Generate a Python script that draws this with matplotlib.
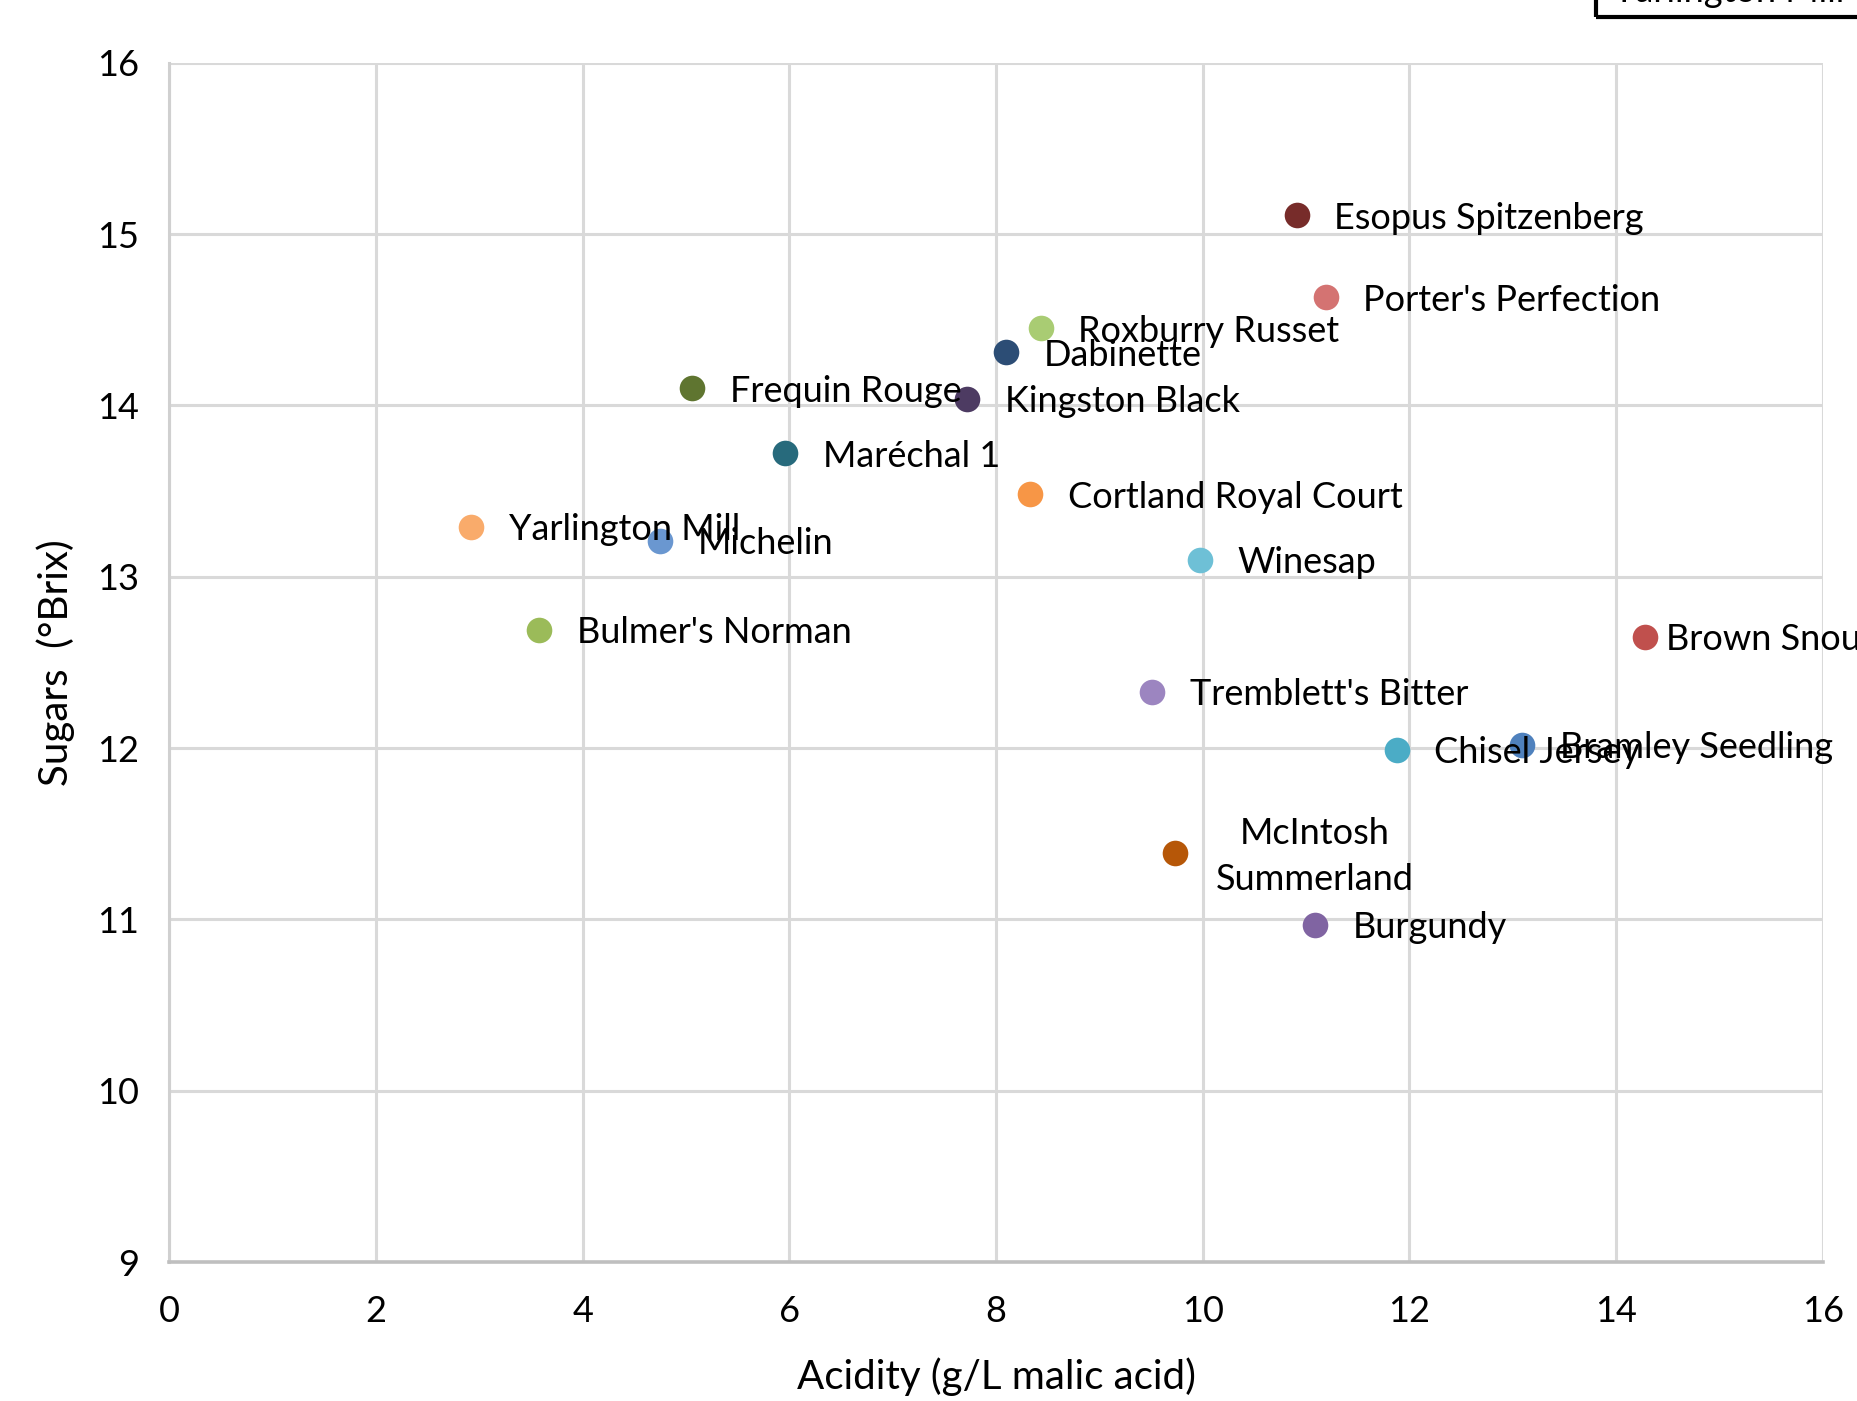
import matplotlib
matplotlib.use("Agg")
import matplotlib.pyplot as plt
from matplotlib.patches import Rectangle

# Cider apple varieties: acidity vs sugar content
varieties = ["Esopus Spitzenberg", "Porter's Perfection", "Roxburry Russet", "Dabinette",
             "Frequin Rouge", "Kingston Black", "Maréchal 1", "Cortland Royal Court",
             "Yarlington Mill", "Michelin", "Winesap", "Bulmer's Norman", "Brown Snout",
             "Tremblett's Bitter", "Chisel Jersey", "Bramley Seedling",
             "McIntosh\nSummerland", "Burgundy"]
acidity = [10.91, 11.19, 8.43, 8.10, 5.06, 7.72, 5.96, 8.33, 2.92, 4.75, 9.97, 3.58,
           14.28, 9.51, 11.88, 13.09, 9.73, 11.09]
sugars = [15.11, 14.63, 14.45, 14.31, 14.10, 14.04, 13.72, 13.48, 13.29, 13.21, 13.10,
          12.69, 12.65, 12.33, 11.99, 12.02, 11.39, 10.97]
colors = ["#772C2A", "#D47372", "#A9CC73", "#2C4D75", "#5F7530", "#4D3B62", "#276A7C",
          "#F79646", "#F9AB6B", "#6A97D0", "#6EC0D6", "#9BBB59", "#C0504D", "#9C85C0",
          "#4BACC6", "#4F81BD", "#B65708", "#8064A2"]

x_ticks = [0, 2, 4, 6, 8, 10, 12, 14, 16]
y_ticks = [9, 10, 11, 12, 13, 14, 15, 16]

plt.rcParams['font.family'] = ['Lato', 'DejaVu Sans']
FS = 26

fig = plt.figure(figsize=(18.58, 14.01), dpi=100)
ax = fig.add_axes([0.0912, 0.0992, 0.8898, 0.856])

for x, y, c in zip(acidity, sugars, colors):
    ax.scatter(x, y, s=340, color=c, zorder=3, linewidths=0)

# labels sit to the right of each point
for name, x, y in zip(varieties, acidity, sugars):
    if "\n" in name:
        ax.annotate(name, (x, y), xytext=(101, -3), textcoords="offset points",
                    ha="center", va="center", fontsize=FS, color="#000000",
                    linespacing=1.5, zorder=4, annotation_clip=False)
    else:
        dx = 15 if name == "Brown Snout" else 27
        ax.annotate(name, (x, y), xytext=(dx, -2), textcoords="offset points",
                    ha="left", va="center", fontsize=FS, color="#000000",
                    zorder=4, annotation_clip=False)

ax.set_xlim(0, 16)
ax.set_ylim(9, 16)
ax.set_xticks(x_ticks)
ax.set_yticks(y_ticks)
ax.tick_params(length=0, labelsize=FS, colors="#000000")
ax.tick_params(axis="y", pad=22)
ax.tick_params(axis="x", pad=24)
ax.grid(True, color="#D9D9D9", linewidth=2.2, zorder=0)
ax.set_axisbelow(True)
for side in ["top", "right"]:
    ax.spines[side].set_visible(False)
ax.spines["left"].set_color("#D0D0D0")
ax.spines["left"].set_linewidth(2.2)
ax.spines["bottom"].set_color("#BFBFBF")
ax.spines["bottom"].set_linewidth(2.6)

ax.set_xlabel("Acidity (g/L malic acid)", fontsize=FS + 3, labelpad=21)
ax.set_ylabel("Sugars  (°Brix)", fontsize=FS + 3, labelpad=16)

# clipped legend-style box in the top right corner
fig.patches.append(Rectangle((1596 / 1858, 1 - 17 / 1401), 0.2, 0.05,
                             transform=fig.transFigure, fill=False,
                             edgecolor="black", linewidth=3))
fig.text(1613 / 1858, 1 - 2 / 1401, "Yarlington Mill", fontsize=FS, va="baseline")

fig.savefig("out.png", dpi=100, facecolor="white")
